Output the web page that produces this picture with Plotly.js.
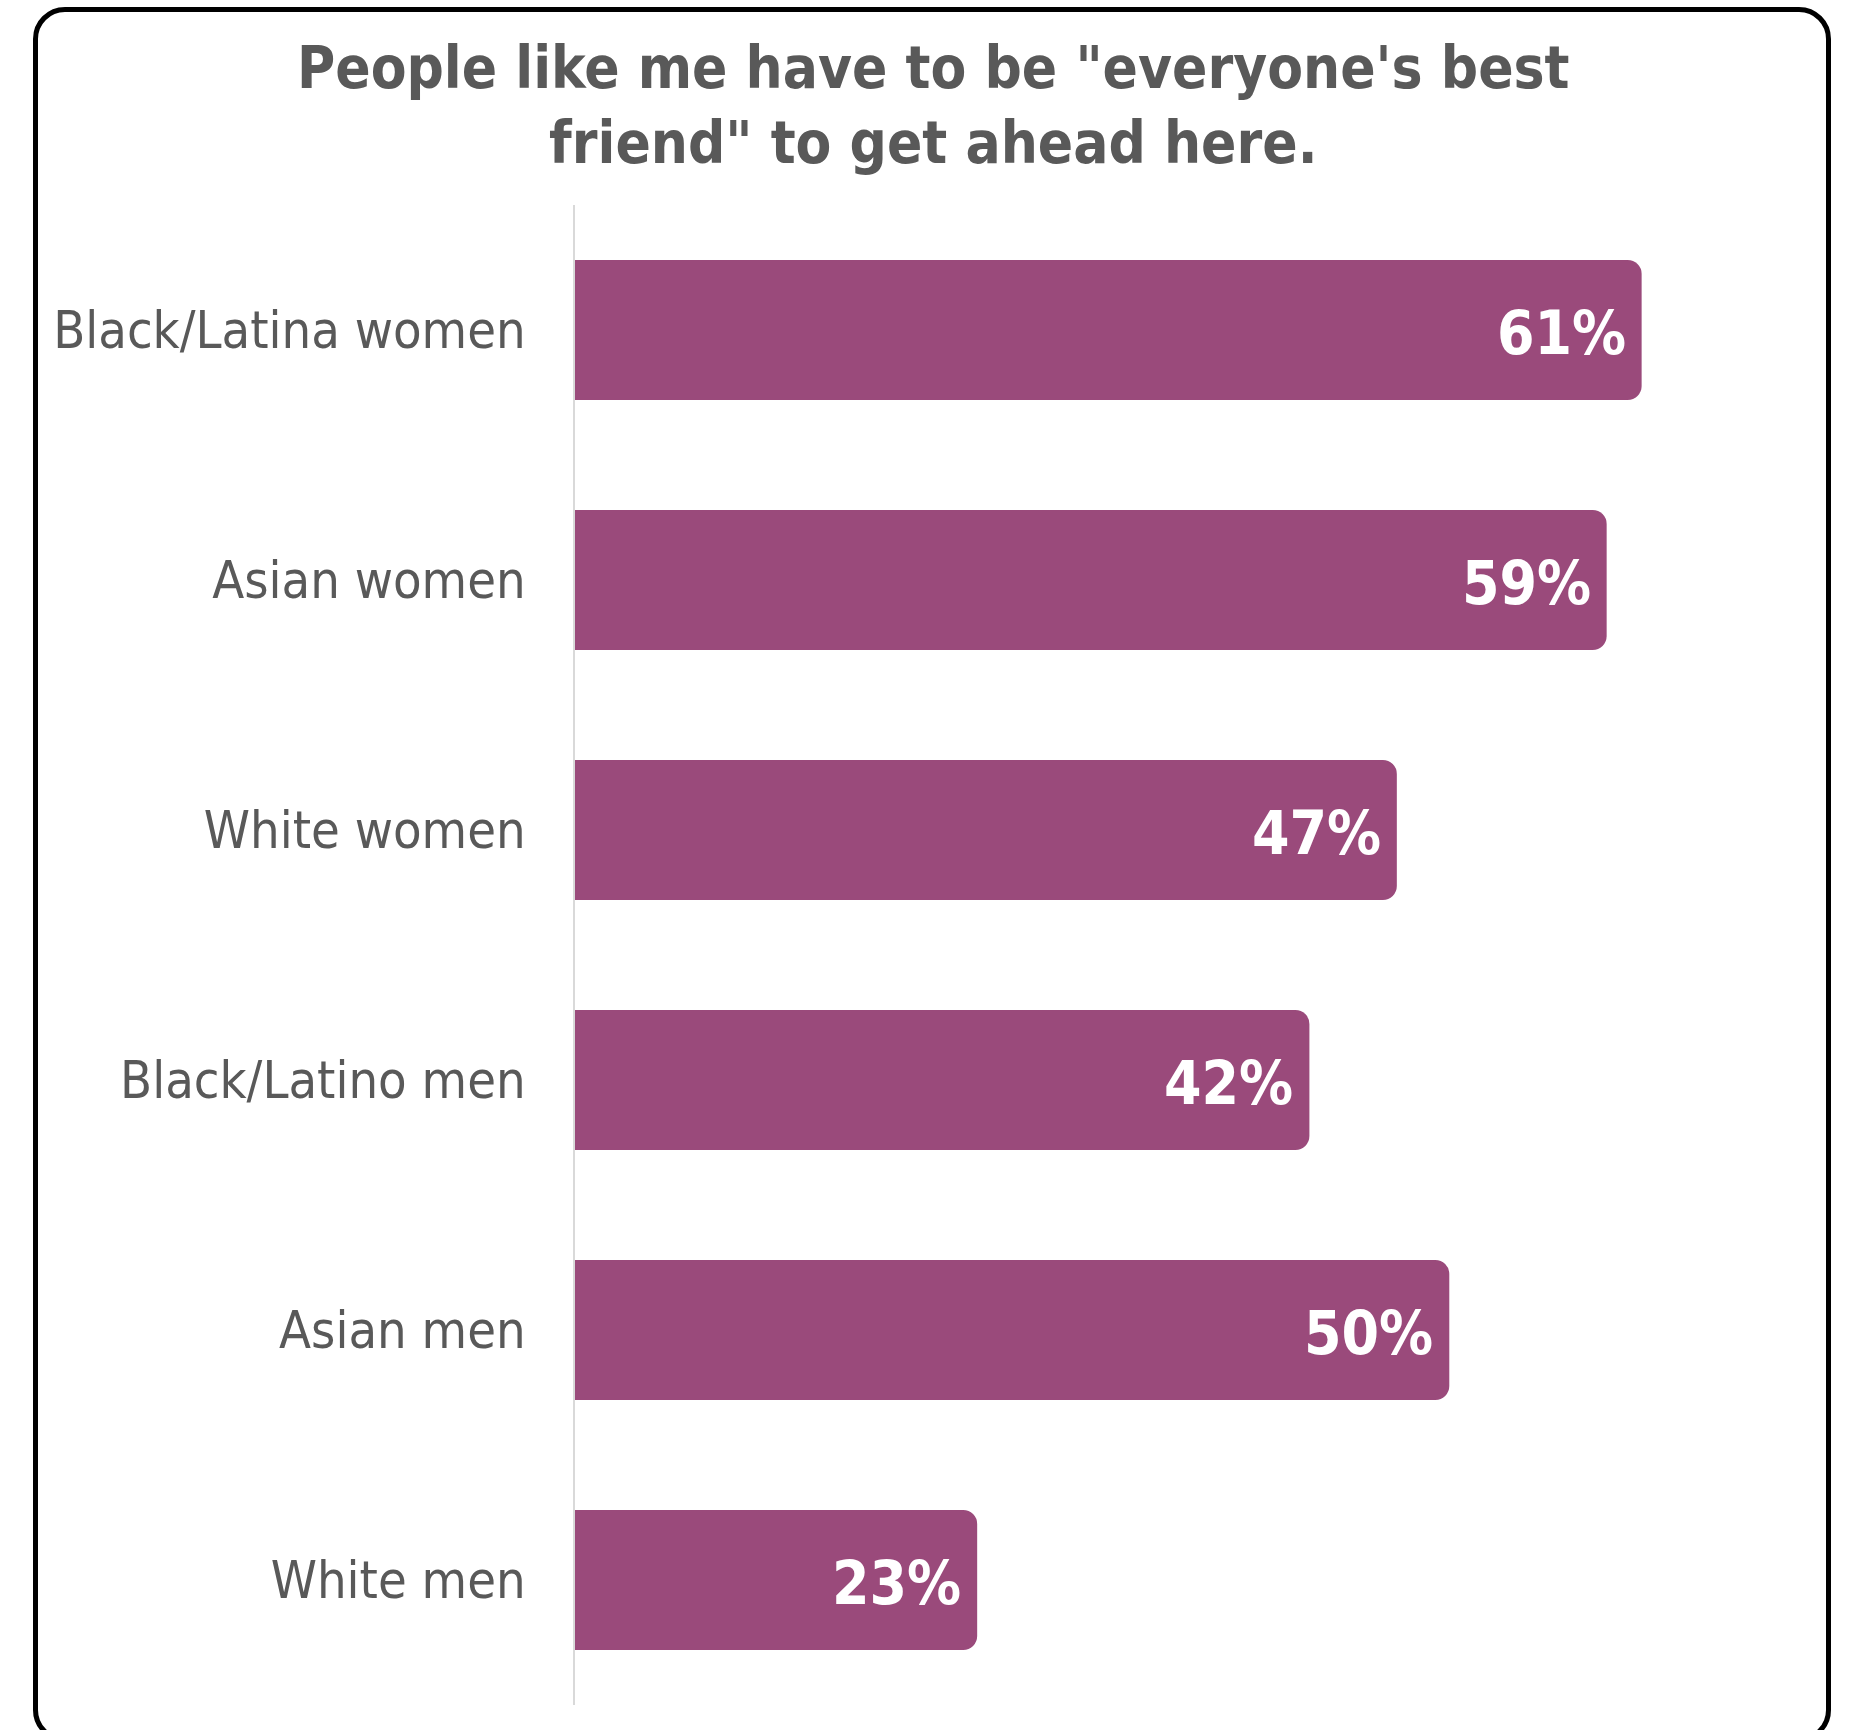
<!DOCTYPE html>
<html>
<head>
<meta charset="utf-8">
<script src="https://cdn.plot.ly/plotly-3.0.1.min.js"></script>
<style>
  html, body { margin: 0; padding: 0; background: #ffffff; overflow: hidden; }
  #wrap { position: relative; width: 1852px; height: 1730px; overflow: hidden; }
  #chart { position: absolute; left: 0; top: 0; width: 1852px; height: 1730px; }
  #frame { position: absolute; left: 33px; top: 7px; width: 1788px; height: 1725px;
           border: 5px solid #000; border-radius: 32px; pointer-events: none; }
</style>
</head>
<body>
<div id="wrap">
  <div id="chart"></div>
  <div id="frame"></div>
</div>
<script>
const categories = ["Black/Latina women", "Asian women", "White women", "Black/Latino men", "Asian men", "White men"];
const values = [61, 59, 47, 42, 50, 23];
const valueLabels = ["61%", "59%", "47%", "42%", "50%", "23%"];
const chartTitle = 'People like me have to be "everyone\'s best<br>friend" to get ahead here.';

const barColor = "#9A4A7B";
const textGrey = "#595959";
const fontFam = '"DejaVu Sans Condensed", "DejaVu Sans", Tahoma, sans-serif';

const trace = {
  type: "bar",
  orientation: "h",
  y: categories,
  x: values,
  marker: { color: barColor, cornerradius: 14 },
  hoverinfo: "skip",
  textposition: "none"
};

const annotations = categories.map((c, i) => ({
  x: values[i], y: c, xref: "x", yref: "y",
  text: valueLabels[i], showarrow: false,
  xanchor: "right", yanchor: "middle", xshift: -14, yshift: -3,
  font: { family: fontFam, size: 60, color: "#ffffff", weight: "bold" }
}));

annotations.push({
  x: 0.293, y: 1.0665, xref: "paper", yref: "paper",
  xanchor: "center", yanchor: "middle",
  text: chartTitle, showarrow: false, align: "center",
  font: { family: fontFam, size: 58, color: textGrey, weight: "bold" }
});

const layout = {
  width: 1852, height: 1730,
  paper_bgcolor: "#ffffff", plot_bgcolor: "#ffffff",
  margin: { l: 575, r: 53, t: 205, b: 25 },
  showlegend: false,
  bargap: 0.44,
  xaxis: {
    range: [0, 70], showgrid: false, zeroline: false, showline: false,
    showticklabels: false, ticks: ""
  },
  yaxis: {
    autorange: "reversed", showgrid: false, zeroline: false,
    showline: true, linecolor: "#d9d9d9", linewidth: 2,
    ticks: "", ticklabelstandoff: 37,
    tickfont: { family: fontFam, size: 52, color: textGrey }
  },
  annotations: annotations
};

Plotly.newPlot("chart", [trace], layout, { displayModeBar: false, staticPlot: true });
</script>
</body>
</html>
